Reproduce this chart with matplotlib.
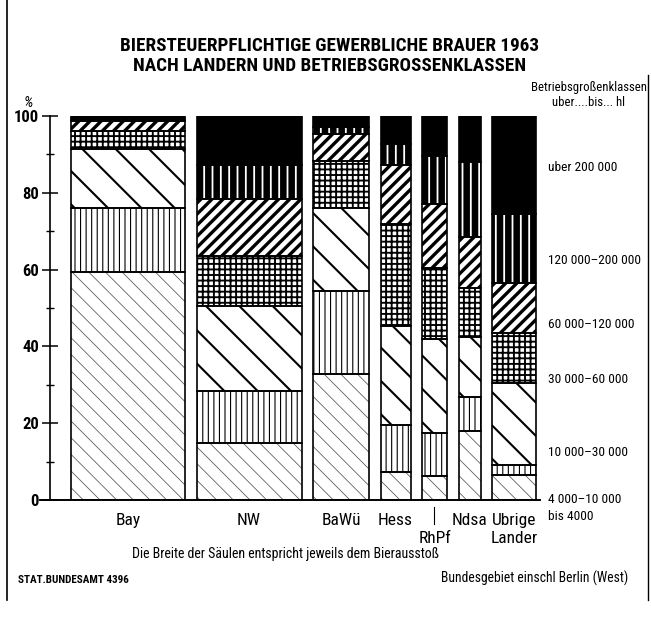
import matplotlib
matplotlib.use("Agg")
import matplotlib.pyplot as plt
from matplotlib import font_manager
from matplotlib.patches import Patch
import numpy as np

# ---------------- data ----------------
laender = ["Bay", "NW", "BaWü", "Hess", "RhPf", "Ndsa", "Ubrige\nLander"]
# column width = relative beer output of each Land
ausstoss = [114, 105, 56, 30, 25, 22, 44]

klassen = ["bis 4000", "4 000\u201310 000", "10 000\u201330 000", "30 000\u201360 000",
           "60 000\u2013120 000", "120 000\u2013200 000", "uber 200 000"]

# share (%) of each size class in each Land (Bay, NW, BaWü, Hess, RhPf, Ndsa, Übrige)
bis_4000      = [59.4, 14.8, 32.8,  7.2,  6.2, 18.0,  6.5]
k4000_10000   = [16.6, 13.6, 21.6, 12.4, 11.3,  8.7,  2.5]
k10000_30000  = [15.4, 22.0, 21.6, 25.8, 24.5, 15.7, 21.4]
k30000_60000  = [ 4.6, 13.2, 12.4, 26.6, 18.4, 12.8, 13.2]
k60000_120000 = [ 2.6, 14.8,  6.8, 15.2, 16.8, 13.2, 12.8]
k120000_200000= [ 0.7,  8.8,  2.0,  5.6, 12.4, 19.6, 18.0]
ueber_200000  = [ 0.7, 12.8,  2.8,  7.2, 10.4, 12.0, 25.6]

legend_y = [-4.4, 0.2, 12.5, 31.3, 45.6, 62.5, 86.5]
y_ticks = [0, 20, 40, 60, 80, 100]

# ---------------- fonts ----------------
ttfs = font_manager.fontManager.ttflist
names = {f.name for f in ttfs}
STRETCH = "normal"
FAMILY = None
for cand in ["Liberation Sans Narrow", "Roboto Condensed", "Open Sans Condensed",
             "Noto Sans Condensed", "DejaVu Sans Condensed"]:
    if cand in names:
        FAMILY = cand
        break
if FAMILY is None:
    for f in ttfs:
        if "Narrow" in f.name or "Condensed" in f.name:
            FAMILY = f.name
            break
if FAMILY is None:
    for pref in ["DejaVu Sans", "Noto Sans", "Open Sans", "Liberation Sans"]:
        ok = [f for f in ttfs if f.name == pref and str(f.stretch) in ("condensed", "semi-condensed", "extra-condensed")]
        if ok:
            FAMILY = pref
            STRETCH = "condensed"
            break
if FAMILY is None:
    FAMILY = "Liberation Sans" if "Liberation Sans" in names else "DejaVu Sans"
plt.rcParams["font.family"] = [FAMILY, "DejaVu Sans"]
plt.rcParams["font.stretch"] = STRETCH
SC = 1.0 if (STRETCH == "condensed" or FAMILY not in ("Liberation Sans", "DejaVu Sans")) else 0.9

W, H = 651, 617
fig = plt.figure(figsize=(W / 100, H / 100), dpi=100)

def fx(x):
    return x / W

def fy(y):
    return 1 - y / H

ax_left, ax_right, ax_bottom, ax_top = 50, 540, 500, 116
ax = fig.add_axes([fx(ax_left), fy(ax_bottom), (ax_right - ax_left) / W, (ax_bottom - ax_top) / H])
ax.set_xlim(0, ax_right - ax_left)
ax.set_ylim(0, 100)
ax.patch.set_alpha(0)

styles = [
    dict(face="white", hcol="#555555", hatch="\\\\", hlw=0.55),  # bis 4000
    dict(face="white", hcol="black", hatch="|||", hlw=0.8),      # 4000-10000
    dict(face="white", hcol="black", hatch="\\", hlw=1.5),       # 10000-30000
    dict(face="white", hcol="black", hatch="+++", hlw=1.35),     # 30000-60000
    dict(face="white", hcol="black", hatch="///", hlw=2.4),      # 60000-120000
    dict(face="black", hcol="white", hatch="||", hlw=1.3),       # 120000-200000
    dict(face="black", hcol="black", hatch="", hlw=0.5),         # über 200000
]

series = [bis_4000, k4000_10000, k10000_30000, k30000_60000,
          k60000_120000, k120000_200000, ueber_200000]

gap = 11.5
start = 21
lefts = []
pos = start
for w in ausstoss:
    lefts.append(pos)
    pos += w + gap
lefts = np.array(lefts)
widths = np.array(ausstoss, dtype=float)
centers = lefts + widths / 2

has_hlw = hasattr(Patch, "set_hatch_linewidth")
bottom = np.zeros(len(laender))
for vals, st in zip(series, styles):
    vals = np.array(vals)
    with plt.rc_context({"hatch.linewidth": st["hlw"]}):
        bars = ax.bar(lefts, vals, width=widths, bottom=bottom, align="edge",
                      color=st["face"], edgecolor=st["hcol"], linewidth=0,
                      hatch=st["hatch"] or None, zorder=2)
    if has_hlw:
        for b in bars:
            b.set_hatch_linewidth(st["hlw"])
    ax.bar(lefts, vals, width=widths, bottom=bottom, align="edge",
           fill=False, edgecolor="black", linewidth=1.2, zorder=3)
    bottom += vals

# axes styling
for s in ["top", "right", "bottom"]:
    ax.spines[s].set_visible(False)
ax.spines["left"].set_linewidth(1.2)
ax.spines["left"].set_bounds(0, 100)
ax.set_xticks([])
ax.set_yticks(y_ticks)
ax.set_yticklabels([str(t) for t in y_ticks], fontsize=12 * SC, fontweight="bold")
ax.set_yticks([10, 30, 50, 70, 90], minor=True)
ax.tick_params(axis="y", which="major", direction="inout", length=12, width=1.1, pad=2)
ax.tick_params(axis="y", which="minor", direction="inout", length=6, width=1.0)
ax.plot([-10, ax_right - ax_left], [0, 0], color="black", lw=1.4, clip_on=False, zorder=4)

# category labels
row1, row2 = -5.4, -9.9
LFS = 12.5 * SC
for c, lab in zip(centers, laender):
    if lab == "RhPf":
        ax.text(c, row2, lab, ha="center", va="center", fontsize=LFS)
        ax.plot([c - 1, c - 1], [-1.8, -6.2], color="black", lw=0.8, clip_on=False)
    elif "\n" in lab:
        a, b = lab.split("\n")
        ax.text(c, row1, a, ha="center", va="center", fontsize=LFS)
        ax.text(c, row2, b, ha="center", va="center", fontsize=LFS)
    else:
        ax.text(c, row1, lab, ha="center", va="center", fontsize=LFS)

# legend texts
for ly, k in zip(legend_y, klassen):
    ax.text(ax_right - ax_left + 8, ly, k, ha="left", va="center", fontsize=9.6 * SC, clip_on=False)

# titles and notes
fig.text(fx(330), fy(46), "BIERSTEUERPFLICHTIGE GEWERBLICHE BRAUER 1963",
         ha="center", va="center", fontsize=13.8 * SC, fontweight="bold")
fig.text(fx(330), fy(66), "NACH LANDERN UND BETRIEBSGROSSENKLASSEN",
         ha="center", va="center", fontsize=13.8 * SC, fontweight="bold")
fig.text(fx(589), fy(88), "Betriebsgroßenklassen", ha="center", va="center", fontsize=9.2 * SC)
fig.text(fx(589), fy(102), "uber....bis... hl", ha="center", va="center", fontsize=9.2 * SC)
fig.text(fx(28), fy(103), "%", ha="center", va="center", fontsize=11, fontstyle="italic")
fig.text(fx(285), fy(554), "Die Breite der Säulen entspricht jeweils dem Bierausstoß",
         ha="center", va="center", fontsize=10 * SC)
fig.text(fx(18), fy(580), "STAT.BUNDESAMT 4396", ha="left", va="center",
         fontsize=8 * SC, fontweight="bold")
fig.text(fx(628), fy(578), "Bundesgebiet einschl Berlin (West)", ha="right",
         va="center", fontsize=9.8 * SC)

# frame lines
fig.add_artist(plt.Line2D([fx(7), fx(7)], [fy(0), fy(600)], color="black", lw=1.2))
fig.add_artist(plt.Line2D([fx(648), fx(648)], [fy(75), fy(600)], color="black", lw=1.0))

fig.savefig("out.png", dpi=100)
